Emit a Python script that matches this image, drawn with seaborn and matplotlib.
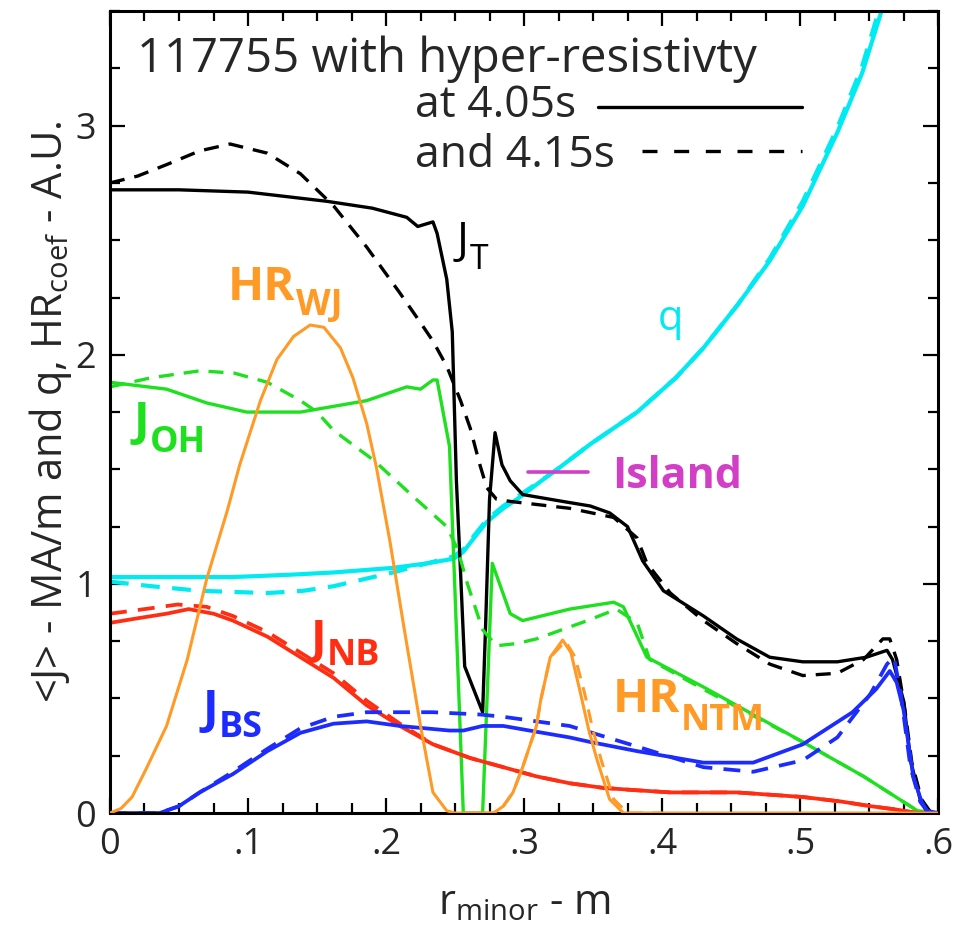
import pandas as pd
import seaborn as sns
import matplotlib.pyplot as plt
import matplotlib.ticker as ticker
from matplotlib.transforms import offset_copy

# ---- values (r_minor in m) ----
# total current J_T
r_jt_405 = [0, 0.05, 0.10, 0.157, 0.19, 0.215, 0.223, 0.234, 0.237, 0.244, 0.248, 0.251, 0.254, 0.257,
            0.270, 0.272, 0.275, 0.279, 0.284, 0.290, 0.299, 0.328, 0.348, 0.362, 0.375, 0.386, 0.401,
            0.430, 0.454, 0.478, 0.502, 0.527, 0.548, 0.563, 0.567, 0.575, 0.580, 0.587, 0.594, 0.600]
jt_405 = [2.72, 2.72, 2.71, 2.67, 2.64, 2.60, 2.56, 2.58, 2.53, 2.33, 2.10, 1.45, 1.05, 0.64,
          0.44, 0.79, 1.37, 1.66, 1.52, 1.45, 1.39, 1.36, 1.34, 1.31, 1.25, 1.10, 0.97,
          0.86, 0.76, 0.68, 0.66, 0.66, 0.68, 0.71, 0.67, 0.49, 0.23, 0.06, 0.0, 0.0]
r_jt_415 = [0, 0.02, 0.041, 0.065, 0.087, 0.114, 0.138, 0.162, 0.186, 0.210, 0.225, 0.234, 0.244,
            0.254, 0.261, 0.268, 0.273, 0.280, 0.290, 0.333, 0.365, 0.382, 0.389, 0.406, 0.430,
            0.454, 0.478, 0.502, 0.527, 0.546, 0.560, 0.565, 0.570, 0.576, 0.581, 0.588, 0.595, 0.600]
jt_415 = [2.75, 2.78, 2.83, 2.89, 2.92, 2.88, 2.79, 2.65, 2.47, 2.27, 2.14, 2.06, 1.95,
          1.80, 1.68, 1.52, 1.42, 1.37, 1.36, 1.33, 1.29, 1.20, 1.09, 0.96, 0.84,
          0.74, 0.65, 0.60, 0.61, 0.67, 0.76, 0.76, 0.67, 0.45, 0.22, 0.06, 0.0, 0.0]

# ohmic current J_OH
r_joh_405 = [0, 0.041, 0.07, 0.099, 0.138, 0.186, 0.215, 0.225, 0.234, 0.237, 0.246, 0.256, 0.270,
             0.277, 0.290, 0.299, 0.333, 0.365, 0.372, 0.389, 0.430, 0.502, 0.546, 0.585, 0.600]
joh_405 = [1.88, 1.85, 1.79, 1.75, 1.75, 1.80, 1.86, 1.85, 1.89, 1.89, 1.60, 0.0, 0.0,
           1.09, 0.87, 0.84, 0.89, 0.92, 0.90, 0.68, 0.55, 0.31, 0.16, 0.01, 0.0]
r_joh_415 = [0, 0.03, 0.065, 0.09, 0.114, 0.138, 0.15, 0.162, 0.191, 0.22, 0.244, 0.252, 0.259,
             0.270, 0.280, 0.295, 0.309, 0.346, 0.367, 0.382, 0.391, 0.430, 0.502, 0.546, 0.585, 0.600]
joh_415 = [1.86, 1.90, 1.93, 1.92, 1.88, 1.80, 1.75, 1.67, 1.54, 1.38, 1.25, 1.15, 1.00,
           0.80, 0.73, 0.74, 0.76, 0.84, 0.89, 0.83, 0.67, 0.54, 0.31, 0.16, 0.01, 0.0]

# safety factor q
r_q_405 = [0, 0.05, 0.089, 0.13, 0.162, 0.205, 0.23, 0.249, 0.256, 0.265, 0.273, 0.285, 0.295,
           0.317, 0.324, 0.348, 0.382, 0.41, 0.430, 0.455, 0.478, 0.502, 0.527, 0.545, 0.559]
q_405 = [1.03, 1.03, 1.03, 1.04, 1.05, 1.07, 1.09, 1.11, 1.14, 1.21, 1.27, 1.33, 1.37,
         1.47, 1.50, 1.61, 1.75, 1.90, 2.03, 2.22, 2.41, 2.65, 2.97, 3.23, 3.50]
r_q_415 = [0, 0.03, 0.065, 0.114, 0.14, 0.162, 0.205, 0.23, 0.249, 0.256, 0.265, 0.273, 0.285,
           0.295, 0.317, 0.324, 0.348, 0.382, 0.41, 0.430, 0.455, 0.478, 0.502, 0.527, 0.545, 0.557]
q_415 = [1.01, 0.99, 0.97, 0.96, 0.97, 0.99, 1.05, 1.09, 1.12, 1.15, 1.22, 1.28, 1.34,
         1.38, 1.47, 1.50, 1.61, 1.75, 1.90, 2.03, 2.22, 2.42, 2.67, 2.99, 3.26, 3.50]

# neutral beam current J_NB
r_jnb_405 = [0, 0.02, 0.041, 0.057, 0.075, 0.089, 0.114, 0.138, 0.162, 0.186, 0.210, 0.234, 0.261,
             0.285, 0.309, 0.333, 0.357, 0.38, 0.406, 0.454, 0.502, 0.53, 0.551, 0.57, 0.585, 0.600]
jnb_405 = [0.83, 0.85, 0.87, 0.89, 0.87, 0.84, 0.77, 0.68, 0.59, 0.47, 0.38, 0.30, 0.24,
           0.20, 0.16, 0.13, 0.11, 0.10, 0.09, 0.09, 0.07, 0.05, 0.03, 0.015, 0.0, 0.0]
r_jnb_415 = [0, 0.025, 0.049, 0.07, 0.089, 0.114, 0.138, 0.162, 0.186, 0.210, 0.234, 0.261,
             0.285, 0.309, 0.333, 0.357, 0.38, 0.406, 0.454, 0.502, 0.53, 0.551, 0.57, 0.585, 0.600]
jnb_415 = [0.87, 0.89, 0.91, 0.90, 0.86, 0.79, 0.70, 0.61, 0.49, 0.39, 0.30, 0.24,
           0.20, 0.16, 0.13, 0.11, 0.10, 0.09, 0.09, 0.07, 0.05, 0.03, 0.015, 0.0, 0.0]

# bootstrap current J_BS
r_jbs_405 = [0, 0.036, 0.05, 0.065, 0.089, 0.114, 0.138, 0.162, 0.186, 0.210, 0.246, 0.256, 0.270,
             0.285, 0.304, 0.333, 0.348, 0.382, 0.430, 0.466, 0.502, 0.538, 0.555, 0.565, 0.570,
             0.575, 0.582, 0.588, 0.592, 0.600]
jbs_405 = [0.0, 0.0, 0.03, 0.09, 0.17, 0.27, 0.35, 0.39, 0.40, 0.38, 0.36, 0.36, 0.38,
           0.38, 0.36, 0.33, 0.31, 0.27, 0.22, 0.22, 0.30, 0.44, 0.54, 0.62, 0.57,
           0.45, 0.16, 0.05, 0.01, 0.0]
r_jbs_415 = [0, 0.036, 0.05, 0.065, 0.089, 0.114, 0.138, 0.162, 0.186, 0.234, 0.268, 0.285,
             0.333, 0.382, 0.430, 0.466, 0.502, 0.527, 0.551, 0.563, 0.568, 0.573, 0.580,
             0.587, 0.593, 0.600]
jbs_415 = [0.0, 0.0, 0.03, 0.09, 0.18, 0.28, 0.37, 0.42, 0.44, 0.44, 0.43, 0.42,
           0.38, 0.29, 0.20, 0.18, 0.23, 0.33, 0.52, 0.65, 0.68, 0.52, 0.20,
           0.05, 0.0, 0.0]

# hyper-resistivity coefficient (WJ and NTM parts)
r_hr_405 = [0, 0.008, 0.016, 0.026, 0.041, 0.056, 0.070, 0.085, 0.094, 0.109, 0.121, 0.133, 0.145,
            0.155, 0.167, 0.176, 0.186, 0.193, 0.203, 0.213, 0.225, 0.234, 0.244, 0.250, 0.278,
            0.285, 0.292, 0.299, 0.309, 0.312, 0.319, 0.328, 0.334, 0.341, 0.347, 0.353, 0.362,
            0.372, 0.600]
hr_405 = [0.0, 0.02, 0.07, 0.19, 0.38, 0.67, 1.02, 1.32, 1.52, 1.80, 1.98, 2.08, 2.13,
          2.12, 2.03, 1.90, 1.70, 1.51, 1.18, 0.81, 0.38, 0.09, 0.01, 0.0, 0.0,
          0.03, 0.09, 0.20, 0.38, 0.49, 0.68, 0.755, 0.70, 0.52, 0.36, 0.23, 0.06,
          0.0, 0.0]
r_hr_415 = [0.270, 0.278, 0.285, 0.292, 0.299, 0.309, 0.312, 0.319, 0.330, 0.337, 0.344, 0.350,
            0.356, 0.365, 0.375, 0.400]
hr_415 = [0.0, 0.0, 0.03, 0.09, 0.20, 0.38, 0.49, 0.68, 0.75, 0.68, 0.52, 0.36,
          0.23, 0.06, 0.0, 0.0]

# island width marker at q = 3/2
r_island = [0.303, 0.346]
q_island = [1.49, 1.49]

xticks = [0, 0.1, 0.2, 0.3, 0.4, 0.5, 0.6]
xticklabels = ['0', '.1', '.2', '.3', '.4', '.5', '.6']
yticks = [0, 1, 2, 3]

BLACK = "black"
GREEN = "#1ee01e"
CYAN = "#00eaf2"
RED = "#ff2d12"
BLUE = "#1c2cff"
ORANGE = "#ff9a26"
MAGENTA = "#d23fc6"

solid = "-"
dashed = (0, (4.5, 3.0))

sns.set_theme(style="ticks")
plt.rcParams['font.family'] = ['Open Sans', 'DejaVu Sans']
plt.rcParams['mathtext.fontset'] = 'custom'
plt.rcParams['mathtext.rm'] = 'Open Sans'
plt.rcParams['mathtext.it'] = 'Open Sans:italic'
plt.rcParams['mathtext.bf'] = 'Open Sans:bold'

fig = plt.figure(figsize=(9.54, 9.26), dpi=100)
ax = fig.add_axes([0.1153, 0.122, 0.868, 0.866])

curves = [
    (r_q_415, q_415, CYAN, dashed, 3.0, 2),
    (r_q_405, q_405, CYAN, solid, 3.0, 2),
    (r_jt_415, jt_415, BLACK, dashed, 2.4, 2),
    (r_jt_405, jt_405, BLACK, solid, 2.4, 2),
    (r_joh_415, joh_415, GREEN, dashed, 2.4, 2),
    (r_joh_405, joh_405, GREEN, solid, 2.4, 2),
    (r_jnb_415, jnb_415, RED, dashed, 2.7, 2),
    (r_jnb_405, jnb_405, RED, solid, 2.7, 2),
    (r_jbs_415, jbs_415, BLUE, dashed, 2.7, 2),
    (r_jbs_405, jbs_405, BLUE, solid, 2.7, 2),
    (r_hr_415, hr_415, ORANGE, dashed, 2.2, 3),
    (r_hr_405, hr_405, ORANGE, solid, 2.2, 3),
    (r_island, q_island, MAGENTA, solid, 2.6, 2),
]
for r, v, c, ls, lw, z in curves:
    df = pd.DataFrame({"r": r, "v": v})
    sns.lineplot(data=df, x="r", y="v", color=c, linestyle=ls, linewidth=lw,
                 estimator=None, sort=False, ax=ax, zorder=z)

ax.set_xlim(0, 0.6)
ax.set_ylim(0, 3.5)
ax.set_xticks(xticks)
ax.set_xticklabels(xticklabels)
ax.set_yticks(yticks)
ax.xaxis.set_minor_locator(ticker.MultipleLocator(0.025))
ax.yaxis.set_minor_locator(ticker.MultipleLocator(0.25))
ax.tick_params(which="both", direction="in", top=True, right=True, width=1.6, color="black")
ax.tick_params(which="major", length=11, labelsize=26, pad=10)
ax.tick_params(which="minor", length=7)
for s in ax.spines.values():
    s.set_linewidth(2.2)
    s.set_color("black")

ax.set_xlabel(r"r$_{\rm minor}$ - m", fontsize=30, labelpad=14)
ax.set_ylabel(r"<J> - MA/m and q, HR$_{\rm coef}$ - A.U.", fontsize=30, labelpad=1)

# header and line-style key
tr = ax.transAxes
ax.text(0.0326, 0.924, "117755 with hyper-resistivty", transform=tr, fontsize=34, va="baseline")
ax.text(0.368, 0.868, "at 4.05s", transform=tr, fontsize=32, va="baseline")
ax.text(0.368, 0.8055, "and 4.15s", transform=tr, fontsize=32, va="baseline")
ax.plot([0.589, 0.836], [0.880, 0.880], transform=tr, color=BLACK, lw=2.4)
ax.plot([0.643, 0.836], [0.825, 0.825], transform=tr, color=BLACK, lw=2.4, ls=(0, (4.5, 5)))

renderer = fig.canvas.get_renderer()


def curve_label(x, y, main, sub, color, size=34, weight="bold", drop=11, ratio=0.76):
    t = ax.text(x, y, main, transform=tr, fontsize=size, color=color,
                fontweight=weight, va="baseline")
    bb = t.get_window_extent(renderer)
    x_end = tr.inverted().transform((bb.x1, bb.y0))[0]
    ax.text(x_end, y, sub, fontsize=size * ratio, color=color, fontweight=weight,
            va="baseline", transform=offset_copy(tr, fig=fig, x=0.5, y=-drop, units="points"))


# curve labels
curve_label(0.419, 0.698, "J", "T", BLACK, size=32, weight="normal", drop=11)
curve_label(0.1425, 0.640, "HR", "WJ", ORANGE)
curve_label(0.028, 0.471, "J", "OH", GREEN, drop=12)
curve_label(0.242, 0.200, "J", "NB", RED, drop=9)
curve_label(0.112, 0.112, "J", "BS", BLUE, drop=10)
curve_label(0.6075, 0.126, "HR", "NTM", ORANGE, drop=13)
ax.text(0.661, 0.602, "q", transform=tr, fontsize=30, color=CYAN, va="baseline")
ax.text(0.606, 0.405, "Island", transform=tr, fontsize=31, color=MAGENTA, va="baseline",
        fontweight="bold")

plt.savefig("out.png", dpi=100)
